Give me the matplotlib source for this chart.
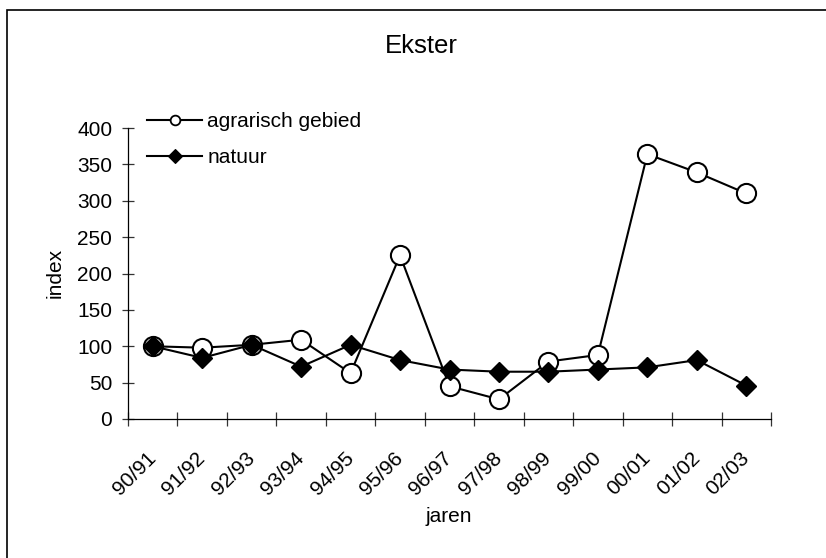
import matplotlib.pyplot as plt
from matplotlib.lines import Line2D
from matplotlib.patches import Rectangle

plt.rcParams['font.family'] = ['Liberation Sans', 'DejaVu Sans']

# data
jaren = ['90/91', '91/92', '92/93', '93/94', '94/95', '95/96', '96/97',
         '97/98', '98/99', '99/00', '00/01', '01/02', '02/03']
agrarisch = [100, 98, 102, 109, 63, 225, 45, 27, 79, 88, 364, 339, 310]
natuur = [100, 84, 102, 72, 102, 81, 68, 65, 65, 68, 71, 81, 46]
y_ticks = [0, 50, 100, 150, 200, 250, 300, 350, 400]

W, H = 826, 558
fig = plt.figure(figsize=(W / 100, H / 100), dpi=100)
ax = fig.add_axes([128 / W, 1 - 419 / H, (771 - 128) / W, (419 - 128) / H])

x = list(range(len(jaren)))
ax.plot(x, agrarisch, color='black', lw=1.5, marker='o', ms=13.8,
        mfc='white', mec='black', mew=1.5, zorder=3, clip_on=False)
ax.plot(x, natuur, color='black', lw=1.5, marker='D', ms=9.9,
        mfc='black', mec='black', mew=1, zorder=4, clip_on=False)

ax.set_xlim(-0.5, len(jaren) - 0.5)
ax.set_ylim(0, 400)

# ticks on category boundaries, labels at category centres (Excel style)
ax.set_xticks([i - 0.5 for i in range(len(jaren) + 1)])
ax.set_xticklabels([])
ax.set_xticks(x, minor=True)
ax.set_xticklabels(jaren, minor=True, rotation=45, ha='right', va='center',
                   rotation_mode='anchor', fontsize=15)
ax.tick_params(axis='x', which='major', direction='inout', length=10,
               width=0.9, color='#333333')
ax.tick_params(axis='x', which='minor', length=0, pad=26)

ax.set_yticks(y_ticks)
ax.tick_params(axis='y', direction='inout', length=8.6, width=0.9,
               pad=7, labelsize=15, color='#333333')

for s in ['top', 'right']:
    ax.spines[s].set_visible(False)
for s in ['left', 'bottom']:
    ax.spines[s].set_linewidth(0.9)

# legend
handles = [
    Line2D([], [], color='black', lw=1.5, marker='o', ms=7, mfc='white', mec='black', mew=1.3),
    Line2D([], [], color='black', lw=1.5, marker='D', ms=7.3, mfc='black', mec='black', mew=0.8),
]
fig.legend(handles, ['agrarisch gebied', 'natuur'], loc='center left',
           bbox_to_anchor=(147 / W, 1 - 139.5 / H), frameon=False,
           borderpad=0, borderaxespad=0, handlelength=2.65,
           handletextpad=0.25, labelspacing=0.8, fontsize=15)

fig.text(421 / W, 1 - 53 / H, 'Ekster', ha='center', va='baseline', fontsize=18.5)
fig.text(449 / W, 1 - 517 / H, 'jaren', ha='center', va='center', fontsize=15)
fig.text(55 / W, 1 - 273 / H, 'index', ha='center', va='center', rotation=90, fontsize=15)

# chart area border (right and bottom edges fall outside the picture)
fig.patches.append(Rectangle((7 / W, 1 - 568 / H), (836 - 7) / W, (568 - 10) / H,
                             transform=fig.transFigure, fill=False,
                             ec='black', lw=1.2))

fig.savefig('out.png', dpi=100)
